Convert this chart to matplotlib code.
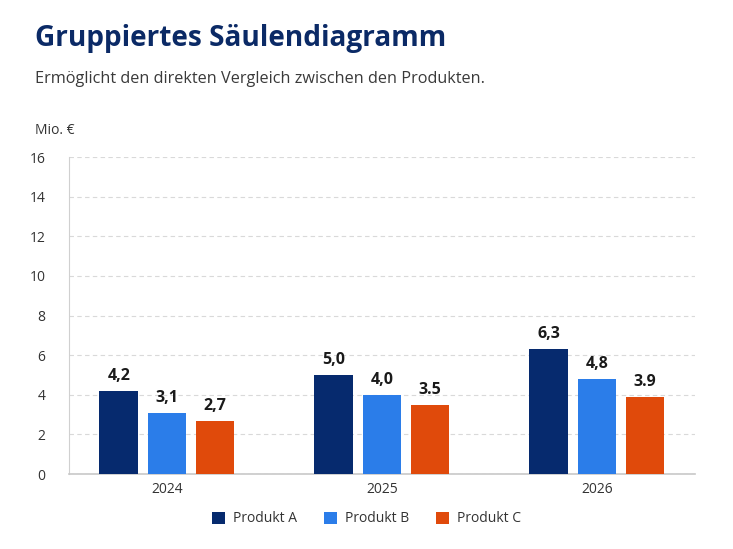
import matplotlib
matplotlib.use("Agg")
import matplotlib.pyplot as plt
import numpy as np

# data
years = ["2024", "2025", "2026"]
products = ["Produkt A", "Produkt B", "Produkt C"]
produkt_a = [4.2, 5.0, 6.3]
produkt_b = [3.1, 4.0, 4.8]
produkt_c = [2.7, 3.5, 3.9]
# value labels as printed (mixed decimal separators in the original)
labels_a = ["4,2", "5,0", "6,3"]
labels_b = ["3,1", "4,0", "4,8"]
labels_c = ["2,7", "3.5", "3.9"]
y_ticks = [0, 2, 4, 6, 8, 10, 12, 14, 16]

colors = ["#062a6e", "#2b7de9", "#e04a0b"]

plt.rcParams["font.family"] = ["Open Sans", "DejaVu Sans"]

fig = plt.figure(figsize=(7.33, 5.49), dpi=100)
ax = fig.add_axes([0.0941, 0.1366, 0.8539, 0.5774])

x = np.arange(len(years))
width = 0.18
step = 0.224
series = [(produkt_a, labels_a), (produkt_b, labels_b), (produkt_c, labels_c)]
for i, (vals, labs) in enumerate(series):
    pos = x + (i - 1) * step
    bars = ax.bar(pos, vals, width, color=colors[i], label=products[i], zorder=3)
    for b, lab in zip(bars, labs):
        ax.annotate(lab, (b.get_x() + b.get_width() / 2, b.get_height()),
                    xytext=(0, 5), textcoords="offset points", ha="center", va="bottom",
                    fontsize=11.5, fontweight="bold", color="#1a1a1a")

ax.set_xlim(-0.456, 2.456)
ax.set_ylim(0, 16)
ax.set_yticks(y_ticks)
ax.set_xticks(x)
ax.set_xticklabels(years)
ax.tick_params(axis="both", length=0, labelsize=10, colors="#333333")
ax.tick_params(axis="y", pad=17)
ax.tick_params(axis="x", pad=6)
ax.grid(axis="y", color="#d9d9d9", linestyle=(0, (4, 3)), linewidth=0.8, zorder=0)
for s in ["top", "right"]:
    ax.spines[s].set_visible(False)
ax.spines["left"].set_color("#d0d0d0")
ax.spines["bottom"].set_color("#c8c8c8")
ax.spines["bottom"].set_linewidth(1.2)

fig.text(0.048, 0.93, "Gruppiertes Säulendiagramm", fontsize=20.2, fontweight="bold",
         color="#0b2a66", va="center", ha="left")
fig.text(0.048, 0.857, "Ermöglicht den direkten Vergleich zwischen den Produkten.",
         fontsize=11.7, color="#3a3a3a", va="center", ha="left")
fig.text(0.048, 0.763, "Mio. €", fontsize=10, color="#333333", va="center", ha="left")

fig.legend(loc="center", bbox_to_anchor=(0.5, 0.055), ncol=3, frameon=False,
           fontsize=10, handlelength=0.95, handleheight=0.95, columnspacing=1.9,
           handletextpad=0.58, labelcolor="#333333")

fig.savefig("out.png", dpi=100, facecolor="white")
